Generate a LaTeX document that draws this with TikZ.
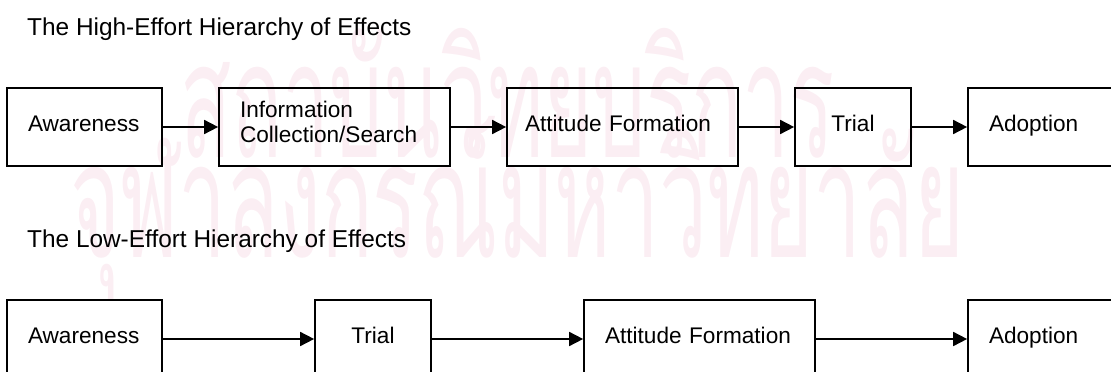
\documentclass[tikz,border=0pt]{standalone}
\usepackage{fontspec}
\setmainfont{Liberation Sans}
\newfontfamily\thaifont[Script=Thai]{Loma}
\usetikzlibrary{arrows.meta}
\definecolor{wmpink}{RGB}{251,238,243}
\begin{document}
\begin{tikzpicture}[x=1pt,y=-1pt,
  stagebox/.style={draw, line width=1.7pt, rectangle, minimum height=78pt,
    inner ysep=0pt, inner xsep=21pt, align=left,
    font=\fontsize{22.6}{25}\selectfont, text height=16pt, text depth=8pt},
  narrowbox/.style={stagebox, text width=74pt, align=center},
  shortbox/.style={stagebox, text width=113pt},
  widebox/.style={stagebox, text width=189pt},
  flow/.style={line width=1.7pt, -{Triangle[length=14pt,width=14pt]}},
  heading/.style={anchor=base west, inner sep=0pt, font=\fontsize{24.4}{28}\selectfont},
  wmark/.style={anchor=base west, inner sep=0pt, text=wmpink, font=\thaifont\fontsize{92}{92}\selectfont}
]
\useasboundingbox (0,0) rectangle (1111,372);
\clip (0,0) rectangle (1111,372);

% faint background stamp
\node[wmark] (wm1) at (180,157) {\scalebox{0.915}[1.75]{สถาบันวิทยบริการ}};
\node[wmark] (wm2) at (70,257) {\scalebox{0.93}[1.75]{จุฬาลงกรณ์มหาวิทยาลัย}};

% high-effort sequence
\node[heading] (t1) at (27,35) {The High-Effort Hierarchy of Effects};
\node[shortbox] (hA) at (84.5,127) {Awareness};
\node[widebox, text depth=36pt] (hI) at (334.5,127) {Information\\Collection/Search};
\node[widebox, inner xsep=18pt, text width=195pt] (hF) at (622.5,127) {Attitude Formation};
\node[narrowbox] (hT) at (853,127) {Trial};
\node[shortbox] (hD) at (1045.5,127) {Adoption};
\draw[flow] (hA) -- (hI);
\draw[flow] (hI) -- (hF);
\draw[flow] (hF) -- (hT);
\draw[flow] (hT) -- (hD);

% low-effort sequence
\node[heading] (t2) at (27,247) {The Low-Effort Hierarchy of Effects};
\node[shortbox] (lA) at (84.5,339) {Awareness};
\node[narrowbox] (lT) at (373,339) {Trial};
\node[widebox] (lF) at (699.5,339) {Attitude Formation};
\node[shortbox] (lD) at (1045.5,339) {Adoption};
\draw[flow] (lA) -- (lT);
\draw[flow] (lT) -- (lF);
\draw[flow] (lF) -- (lD);
\end{tikzpicture}
\end{document}
